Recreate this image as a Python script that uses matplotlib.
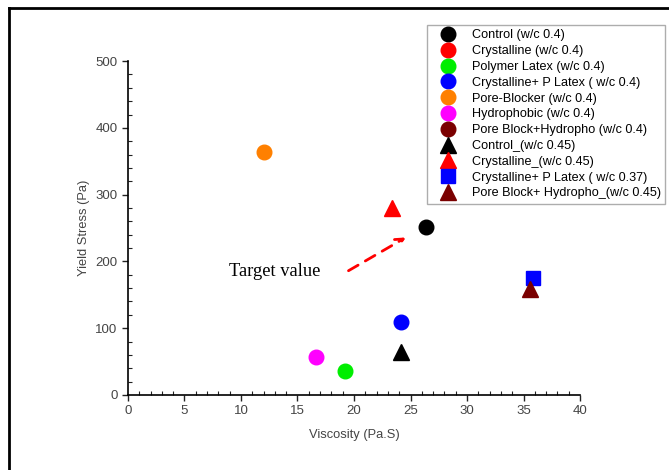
import matplotlib
matplotlib.use('Agg')
import matplotlib.pyplot as plt
from matplotlib.lines import Line2D
from matplotlib.ticker import MultipleLocator

plt.rcParams['font.family'] = ['Liberation Sans', 'DejaVu Sans']

# Viscosity (Pa.S) and yield stress (Pa) for each mix
labels = [
    'Control (w/c 0.4)',
    'Crystalline (w/c 0.4)',
    'Polymer Latex (w/c 0.4)',
    'Crystalline+ P Latex ( w/c 0.4)',
    'Pore-Blocker (w/c 0.4)',
    'Hydrophobic (w/c 0.4)',
    'Pore Block+Hydropho (w/c 0.4)',
    'Control_(w/c 0.45)',
    'Crystalline_(w/c 0.45)',
    'Crystalline+ P Latex ( w/c 0.37)',
    'Pore Block+ Hydropho_(w/c 0.45)',
]
viscosity = [[26.4], [], [19.2], [24.2], [12.0], [16.6], [],
             [24.2], [23.4], [35.8], [35.6]]
yield_stress = [[251], [], [36], [109], [364], [57], [],
                [64], [280], [175], [159]]
colors = ['#000000', '#ff0000', '#00ee00', '#0000ff', '#ff8000', '#ff00ff',
          '#7a0000', '#000000', '#ff0000', '#0000ff', '#7a0000']
markers = ['o', 'o', 'o', 'o', 'o', 'o', 'o', '^', '^', 's', '^']
sizes = [10.5, 10.5, 10.5, 10.5, 10.5, 10.5, 10.5, 11.5, 11.5, 9.5, 11.5]

fig = plt.figure(figsize=(6.69, 4.70), dpi=100)
ax = fig.add_axes([0.1913, 0.1596, 0.6757, 0.7104])

for xs, ys, lab, c, m, s in zip(viscosity, yield_stress, labels, colors, markers, sizes):
    ax.plot(xs, ys, linestyle='none', marker=m, markersize=s, color=c,
            markeredgecolor=c, label=lab)

ax.set_xlim(0, 40)
ax.set_ylim(0, 500)
ax.xaxis.set_major_locator(MultipleLocator(5))
ax.xaxis.set_minor_locator(MultipleLocator(1))
ax.yaxis.set_major_locator(MultipleLocator(100))
ax.yaxis.set_minor_locator(MultipleLocator(20))
ax.tick_params(which='major', direction='out', length=4, width=1, labelsize=9.5,
               colors='#222222', labelcolor='#444444')
ax.tick_params(which='minor', direction='in', length=3, width=0.8, colors='#222222')
ax.spines['top'].set_visible(False)
ax.spines['right'].set_visible(False)
for sp in ('left', 'bottom'):
    ax.spines[sp].set_linewidth(1.2)
ax.set_xlabel('Viscosity (Pa.S)', fontsize=9.3, color='#444444', labelpad=8)
ax.set_ylabel('Yield Stress (Pa)', fontsize=9.3, color='#444444', labelpad=4)

# annotation pointing at the control mix
ax.annotate('', xy=(24.8, 238), xytext=(19.3, 184),
            arrowprops=dict(arrowstyle='->', color='red', lw=2,
                            linestyle=(0, (4, 3)), mutation_scale=14))
ax.text(8.9, 185, 'Target value', fontsize=13.3, family='Liberation Serif',
        va='center', ha='left')

leg = fig.legend(loc='upper left', bbox_to_anchor=(427 / 669, 1 - 25 / 470),
                 fontsize=9.1, frameon=True, fancybox=False, borderpad=0.35,
                 handletextpad=0.5, labelspacing=0.3, markerscale=1.0,
                 handlelength=2.7, borderaxespad=0)
leg.get_frame().set_edgecolor('#999999')
leg.get_frame().set_linewidth(1.0)

# outer frame on left and top
fig.add_artist(Line2D([8.5 / 669, 8.5 / 669], [0, 1 - 8 / 470], color='black', lw=2,
                      transform=fig.transFigure))
fig.add_artist(Line2D([8.5 / 669, 1], [1 - 8 / 470, 1 - 8 / 470], color='black', lw=2,
                      transform=fig.transFigure))

fig.savefig('out.png', dpi=100)
